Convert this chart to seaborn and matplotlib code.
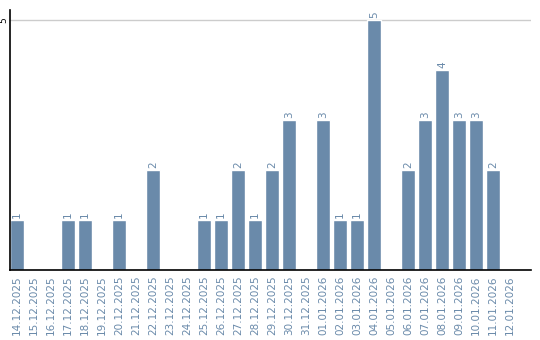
import matplotlib
matplotlib.use("Agg")
import matplotlib.pyplot as plt
import seaborn as sns
import pandas as pd

dates = ["14.12.2025", "15.12.2025", "16.12.2025", "17.12.2025", "18.12.2025",
         "19.12.2025", "20.12.2025", "21.12.2025", "22.12.2025", "23.12.2025",
         "24.12.2025", "25.12.2025", "26.12.2025", "27.12.2025", "28.12.2025",
         "29.12.2025", "30.12.2025", "31.12.2025", "01.01.2026", "02.01.2026",
         "03.01.2026", "04.01.2026", "05.01.2026", "06.01.2026", "07.01.2026",
         "08.01.2026", "09.01.2026", "10.01.2026", "11.01.2026", "12.01.2026"]
counts = [1, 0, 0, 1, 1, 0, 1, 0, 2, 0,
          0, 1, 1, 2, 1, 2, 3, 0, 3, 1,
          1, 5, 0, 2, 3, 4, 3, 3, 2, 0]

df = pd.DataFrame({"date": dates, "count": counts})

sns.set_style("white")
plt.rcParams['font.family'] = ['DejaVu Sans']

fig = plt.figure(figsize=(5.4, 3.4), dpi=100)
W, H = 540, 340
ax = fig.add_axes([10 / W, (H - 270) / H, (531 - 10) / W, (270 - 10) / H])

bar_color = "#6a8aaa"
sns.barplot(data=df, x="date", y="count", color=bar_color, width=14 / 17,
            saturation=1, ax=ax, order=dates)

ax.set_xlim(-7 / 17, (531 - 17) / 17)
ax.set_ylim(0, 5.2)
ax.set_yticks([5])
ax.set_yticklabels(["5"], rotation=90, va="center", fontsize=6.5, color="black")
ax.yaxis.grid(True, color="#cccccc", linewidth=1)
ax.set_axisbelow(True)
ax.tick_params(axis="y", length=0, pad=1)
ax.tick_params(axis="x", length=0, pad=4)
ax.set_xticks(range(len(dates)))
ax.set_xticklabels(dates, rotation=90, fontsize=7.5, color="#6a8aaa")
ax.set_xlabel("")
ax.set_ylabel("")

for s in ["top", "right"]:
    ax.spines[s].set_visible(False)
for s in ["left", "bottom"]:
    ax.spines[s].set_color("black")
    ax.spines[s].set_linewidth(1.2)

for i, v in enumerate(counts):
    if v > 0:
        ax.text(i, v + 0.04, str(v), rotation=90, ha="center", va="bottom",
                fontsize=7.5, color="#6a8aaa")

fig.savefig("out.png", dpi=100)
